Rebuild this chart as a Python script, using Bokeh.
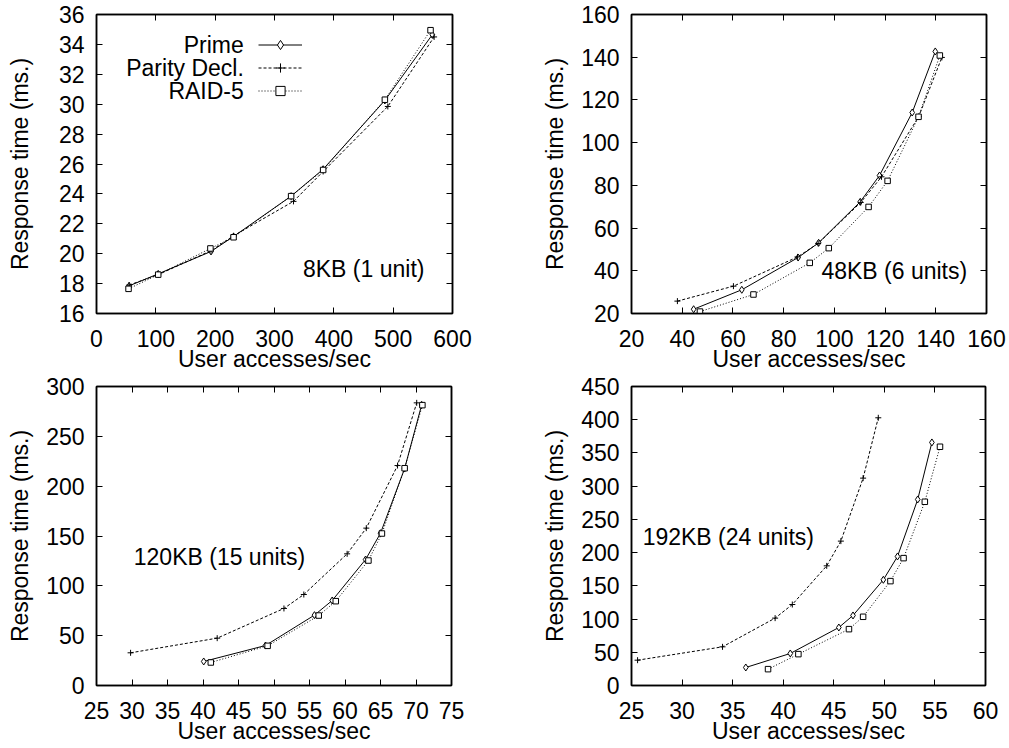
from bokeh.plotting import figure
from bokeh.models import Range1d, FixedTicker, LinearAxis, Label, Legend, LegendItem
from bokeh.layouts import column, row
from bokeh.embed import file_html
from bokeh.resources import INLINE

FONT = "Liberation Sans"
FS = "23px"

# ---- 8KB (1 unit) ----
kb8_prime_x = [55, 104, 193, 231, 328, 382, 486, 566]
kb8_prime_y = [17.85, 18.65, 20.15, 21.15, 23.85, 25.65, 30.25, 34.65]
kb8_parity_x = [55, 104, 193, 231, 332, 382, 491, 569]
kb8_parity_y = [17.9, 18.6, 20.2, 21.2, 23.5, 25.5, 29.85, 34.5]
kb8_raid_x = [54, 104, 192, 231, 328, 382, 486, 563]
kb8_raid_y = [17.65, 18.6, 20.35, 21.1, 23.85, 25.6, 30.3, 34.95]

# ---- 48KB (6 units) ----
kb48_prime_x = [44.5, 63.5, 85.7, 93.8, 110.2, 117.8, 130.7, 139.8]
kb48_prime_y = [22.0, 31.1, 46.2, 53.1, 72.3, 84.6, 114.1, 142.7]
kb48_parity_x = [38.1, 60.2, 85.5, 93.6, 110.4, 118.6, 133.3, 142.4]
kb48_parity_y = [25.8, 32.8, 46.5, 52.8, 72.0, 84.0, 112.3, 139.9]
kb48_raid_x = [47.0, 68.1, 90.3, 97.8, 113.5, 121.0, 133.2, 141.6]
kb48_raid_y = [20.9, 28.9, 43.7, 50.6, 69.9, 82.1, 112.1, 140.8]

# ---- 120KB (15 units) ----
kb120_prime_x = [40.1, 48.8, 55.7, 58.2, 62.9, 65.0, 68.4, 70.8]
kb120_prime_y = [24.1, 40.1, 70.6, 85.3, 126.4, 152.8, 217.7, 281.6]
kb120_parity_x = [29.8, 42.0, 51.4, 54.2, 60.3, 63.0, 67.4, 70.1]
kb120_parity_y = [32.8, 47.5, 77.3, 91.3, 132.1, 157.9, 220.7, 283.6]
kb120_raid_x = [41.1, 49.1, 56.3, 58.7, 63.3, 65.2, 68.4, 70.9]
kb120_raid_y = [23.1, 39.8, 70.2, 84.6, 125.4, 152.5, 218.0, 281.3]

# ---- 192KB (24 units) ----
kb192_prime_x = [36.3, 40.7, 45.5, 46.9, 49.9, 51.3, 53.3, 54.7]
kb192_prime_y = [27.1, 48.2, 87.3, 105.4, 159.1, 194.2, 280.0, 365.8]
kb192_parity_x = [25.6, 34.0, 39.2, 40.9, 44.3, 45.7, 47.9, 49.4]
kb192_parity_y = [38.1, 58.2, 101.4, 121.9, 180.1, 217.3, 312.1, 402.9]
kb192_raid_x = [38.5, 41.5, 46.5, 47.9, 50.6, 51.9, 54.0, 55.5]
kb192_raid_y = [24.6, 47.2, 84.8, 103.4, 157.1, 191.7, 276.5, 359.3]

series_names = ["Prime", "Parity Decl.", "RAID-5"]

x_label = "User accesses/sec"
y_label = "Response time (ms.)"


def style_axis(ax, ticks, label, label_standoff, tick_standoff):
    ax.ticker = FixedTicker(ticks=ticks)
    ax.axis_label = label
    ax.axis_label_text_font = FONT
    ax.axis_label_text_font_size = FS
    ax.axis_label_text_font_style = "normal"
    ax.axis_label_text_color = "black"
    ax.axis_label_standoff = label_standoff
    ax.major_label_text_font = FONT
    ax.major_label_text_font_size = FS
    ax.major_label_text_color = "black"
    ax.major_label_standoff = tick_standoff
    ax.major_tick_in = 6
    ax.major_tick_out = 0
    ax.minor_tick_in = 0
    ax.minor_tick_out = 0
    ax.axis_line_color = "black"
    ax.axis_line_width = 1.5
    ax.major_tick_line_color = "black"
    ax.major_tick_line_width = 1


def mirror_axis(ticks):
    # tick marks only, on the opposite side of the frame
    ax = LinearAxis(ticker=FixedTicker(ticks=ticks))
    ax.major_label_text_color = None
    ax.major_label_standoff = 0
    ax.major_tick_in = 6
    ax.major_tick_out = 0
    ax.minor_tick_in = 0
    ax.minor_tick_out = 0
    ax.axis_line_color = "black"
    ax.axis_line_width = 1.5
    ax.major_tick_line_color = "black"
    return ax


def panel(width, height, borders, xr, yr, xticks, yticks, ylabel_standoff):
    left, right, top, bottom = borders
    p = figure(width=width, height=height, output_backend="svg", toolbar_location=None,
               x_range=Range1d(*xr), y_range=Range1d(*yr),
               min_border_left=left, min_border_right=right,
               min_border_top=top, min_border_bottom=bottom)
    p.grid.visible = False
    p.outline_line_color = "black"
    p.outline_line_width = 1.5
    p.background_fill_color = "white"
    p.border_fill_color = "white"
    style_axis(p.xaxis[0], xticks, x_label, -4, 16)
    style_axis(p.yaxis[0], yticks, y_label, ylabel_standoff, 12)
    p.add_layout(mirror_axis(xticks), "above")
    p.add_layout(mirror_axis(yticks), "right")
    return p


def draw_series(p, px, py, dx, dy, rx, ry):
    r1 = p.line(px, py, line_color="black", line_width=1)
    m1 = p.scatter(px, py, marker="diamond", size=7, line_color="black",
                   fill_color="white", line_width=1)
    r2 = p.line(dx, dy, line_color="black", line_width=1, line_dash="3 2")
    m2 = p.scatter(dx, dy, marker="cross", size=6, line_color="black", line_width=1)
    r3 = p.line(rx, ry, line_color="black", line_width=1, line_dash="1 2")
    m3 = p.scatter(rx, ry, marker="square", size=5.5, line_color="black",
                   fill_color="white", line_width=1)
    return [(r1, m1), (r2, m2), (r3, m3)]


def note(p, x, y, text, align="left"):
    p.add_layout(Label(x=x, y=y, text=text, text_font=FONT, text_font_size=FS,
                       text_color="black", text_align=align,
                       text_baseline="middle"))


# Top-left: 8KB
p1 = panel(504, 374, (96, 52, 14, 61), (0, 600), (16, 36),
           list(range(0, 601, 100)), list(range(16, 37, 2)), 23)
pairs = draw_series(p1, kb8_prime_x, kb8_prime_y, kb8_parity_x, kb8_parity_y,
                    kb8_raid_x, kb8_raid_y)
note(p1, 348, 18.96, "8KB (1 unit)")

# Legend: samples on the right, names right-aligned to their left
legend = Legend(items=[LegendItem(label=" ", renderers=list(rm)) for rm in pairs],
                location=(162, 211), glyph_width=44, glyph_height=23, spacing=0,
                padding=0, margin=0, label_text_color=None, label_standoff=0,
                label_width=0, label_height=0, border_line_alpha=0,
                background_fill_alpha=0)
p1.add_layout(legend)
for name, yc in zip(series_names, [33.96, 32.40, 30.90]):
    note(p1, 248.3, yc, name, align="right")

# Top-right: 48KB
p2 = panel(505, 374, (127, 23, 14, 61), (20, 160), (20, 160),
           list(range(20, 161, 20)), list(range(20, 161, 20)), 10)
draw_series(p2, kb48_prime_x, kb48_prime_y, kb48_parity_x, kb48_parity_y,
            kb48_raid_x, kb48_raid_y)
note(p2, 94.9, 40.0, "48KB (6 units)")

# Bottom-left: 120KB
p3 = panel(504, 374, (96, 53, 12, 63), (25, 75), (0, 300),
           list(range(25, 76, 5)), list(range(0, 301, 50)), 10)
draw_series(p3, kb120_prime_x, kb120_prime_y, kb120_parity_x, kb120_parity_y,
            kb120_raid_x, kb120_raid_y)
note(p3, 30.25, 129.2, "120KB (15 units)")

# Bottom-right: 192KB
p4 = panel(505, 374, (127, 24, 12, 63), (25, 60), (0, 450),
           list(range(25, 61, 5)), list(range(0, 451, 50)), 10)
draw_series(p4, kb192_prime_x, kb192_prime_y, kb192_parity_x, kb192_parity_y,
            kb192_raid_x, kb192_raid_y)
note(p4, 26.1, 223.8, "192KB (24 units)")

layout = column(row(p1, p2), row(p3, p4))
open("out.html", "w").write(file_html(layout, INLINE))
